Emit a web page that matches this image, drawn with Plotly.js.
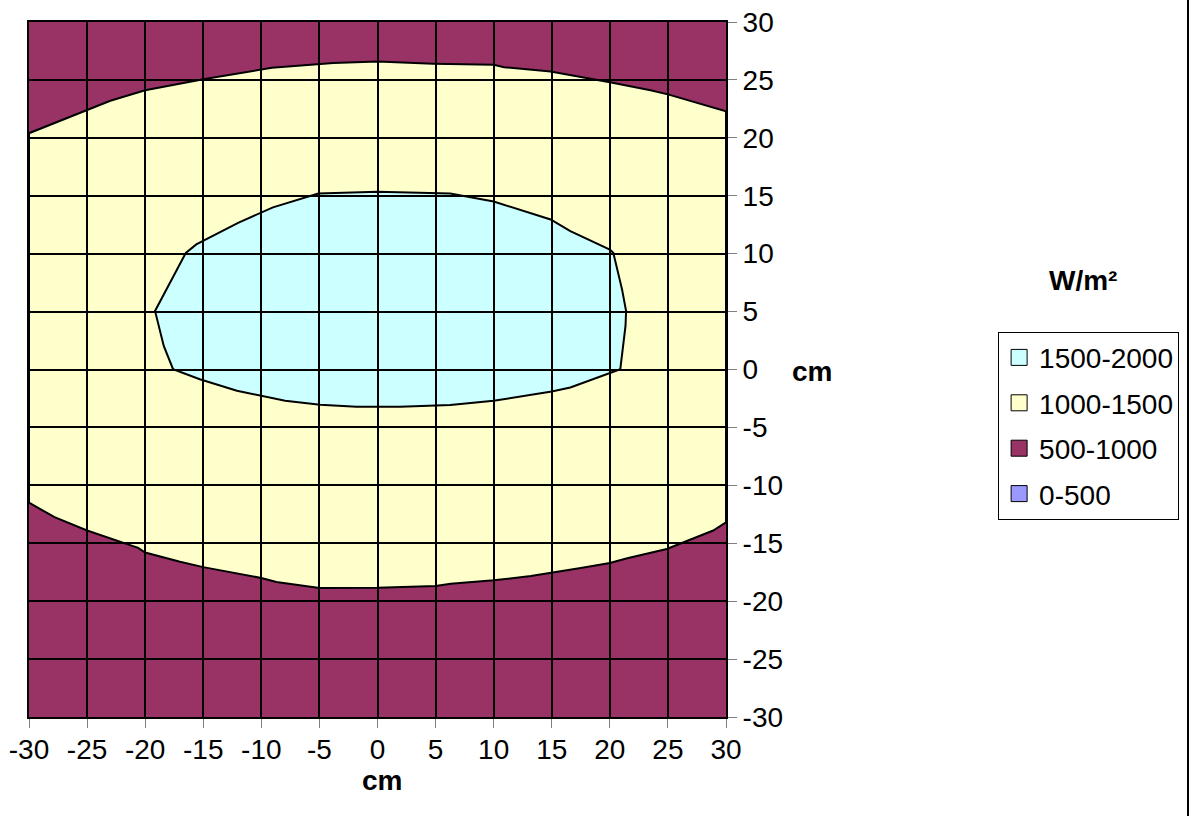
<!DOCTYPE html>
<html>
<head>
<meta charset="utf-8">
<script src="https://cdn.plot.ly/plotly-3.0.1.min.js"></script>
<style>html,body{margin:0;padding:0;background:#fff;}#chart{width:1191px;height:816px;}</style>
</head>
<body>
<div id="chart"></div>
<script>
// Axis extent and tick labels (cm)
const axisRange = [-30, 30];
const xTickVals = [-30, -25, -20, -15, -10, -5, 0, 5, 10, 15, 20, 25, 30];
const xTickLabels = ["-30", "-25", "-20", "-15", "-10", "-5", "0", "5", "10", "15", "20", "25", "30"];
const yTickVals = [-30, -25, -20, -15, -10, -5, 0, 5, 10, 15, 20, 25, 30];
const yTickLabels = ["-30", "-25", "-20", "-15", "-10", "-5", "0", "5", "10", "15", "20", "25", "30"];

// Legend bands (W/m²)
const bandNames = ["1500-2000", "1000-1500", "500-1000", "0-500"];
const bandColors = ["#CCFFFF", "#FFFFCC", "#993366", "#9999FF"];

// 1000 W/m² contour, upper branch (x, y in cm)
const upperX = [-30, -27.7, -25, -23.0, -20, -15, -9.1, -5, -3.8, 0, 4.8, 10, 10.9, 14.9, 20, 23.5, 25, 30];
const upperY = [20.4, 21.3, 22.4, 23.2, 24.1, 25.05, 26.05, 26.4, 26.45, 26.58, 26.4, 26.3, 26.1, 25.72, 24.8, 24.1, 23.75, 22.3];

// 1000 W/m² contour, lower branch
const lowerX = [-30, -27.8, -25, -24.2, -20.6, -20, -17, -15, -10, -8.7, -7.5, -5, 0, 5, 6.3, 10, 13.2, 15, 17.5, 20, 21.5, 24.9, 26.6, 28.9, 30];
const lowerY = [-11.5, -12.75, -13.9, -14.2, -15.4, -15.8, -16.6, -17.06, -18.0, -18.35, -18.5, -18.86, -18.84, -18.7, -18.5, -18.2, -17.83, -17.55, -17.14, -16.7, -16.3, -15.5, -14.85, -13.9, -13.2];

// 1500 W/m² contour (closed loop)
const coreX = [0, -5.1, -9.0, -12.0, -15.6, -16.5, -19.15, -18.4, -17.6, -15.3, -12.1, -7.95, -4.94, -1.8, 1.95, 6.26, 10.0, 15.0, 16.6, 20.0, 20.9, 21.35, 21.4, 21.05, 20.3, 20.0, 16.6, 14.9, 10.0, 6.26, 1.95, 0];
const coreY = [15.35, 15.2, 14.0, 12.66, 10.8, 10.07, 5.05, 2.03, 0.03, -0.84, -1.84, -2.7, -3.05, -3.22, -3.22, -3.07, -2.7, -1.9, -1.55, -0.26, 0.03, 3.76, 5.05, 6.92, 10.07, 10.36, 11.94, 12.95, 14.5, 15.19, 15.3, 15.35];

const FONT = "Arial, 'Liberation Sans', sans-serif";

// Build traces
const bgTrace = {
  x: [axisRange[0], axisRange[1], axisRange[1], axisRange[0], axisRange[0]],
  y: [axisRange[0], axisRange[0], axisRange[1], axisRange[1], axisRange[0]],
  mode: "lines", fill: "toself", fillcolor: bandColors[2],
  line: {width: 0, color: bandColors[2]},
  showlegend: false, hoverinfo: "skip", xaxis: "x", yaxis: "y"
};
const midX = upperX.concat(lowerX.slice().reverse());
const midY = upperY.concat(lowerY.slice().reverse());
midX.push(upperX[0]); midY.push(upperY[0]);
const midTrace = {
  x: midX, y: midY, mode: "lines", fill: "toself", fillcolor: bandColors[1],
  line: {width: 2, color: "#000000"},
  showlegend: false, hoverinfo: "skip", xaxis: "x", yaxis: "y"
};
const coreTrace = {
  x: coreX, y: coreY, mode: "lines", fill: "toself", fillcolor: bandColors[0],
  line: {width: 2, color: "#000000"},
  showlegend: false, hoverinfo: "skip", xaxis: "x", yaxis: "y"
};

const legendTraces = bandNames.map((name, i) => ({
  x: [null], y: [null], type: "scatter", mode: "markers", name: name,
  legendgroup: "g" + i,
  marker: {symbol: "square", size: 16, color: bandColors[i], line: {color: "#000000", width: 1}},
  xaxis: "x2", yaxis: "y2", hoverinfo: "skip"
}));

const data = [bgTrace, midTrace, coreTrace].concat(legendTraces);

const W = 1191, H = 816;
const plotL = 29, plotR = 725.7, plotT = 22, plotB = 717;
const pw = plotR - plotL, ph = plotB - plotT;
const px = v => (v - plotL) / pw;
const py = v => (plotB - v) / ph;

const layout = {
  width: W, height: H,
  margin: {l: plotL, r: W - plotR, t: plotT, b: H - plotB, pad: 0},
  paper_bgcolor: "#FFFFFF",
  plot_bgcolor: "rgba(0,0,0,0)",
  font: {family: FONT, size: 28, color: "#000000"},
  showlegend: true,
  xaxis: {range: axisRange, visible: false, fixedrange: true, anchor: "y"},
  yaxis: {range: axisRange, visible: false, fixedrange: true, anchor: "x"},
  xaxis2: {
    range: axisRange, anchor: "y2", fixedrange: true,
    tickmode: "array", tickvals: xTickVals, ticktext: xTickLabels,
    showgrid: true, gridcolor: "#000000", gridwidth: 2, zeroline: false,
    showline: true, linecolor: "#000000", linewidth: 2, mirror: true,
    ticks: "outside", ticklen: 9, tickwidth: 1, tickcolor: "#808080",
    ticklabelstandoff: -3,
    tickfont: {family: FONT, size: 28, color: "#000000"}
  },
  yaxis2: {
    range: axisRange, anchor: "x2", side: "right", fixedrange: true,
    tickmode: "array", tickvals: yTickVals, ticktext: yTickLabels,
    showgrid: true, gridcolor: "#000000", gridwidth: 2, zeroline: false,
    showline: true, linecolor: "#000000", linewidth: 2, mirror: true,
    ticks: "outside", ticklen: 9, tickwidth: 1, tickcolor: "#808080",
    tickfont: {family: FONT, size: 28, color: "#000000"}
  },
  legend: {
    x: px(997.7), y: py(331.7), xanchor: "left", yanchor: "top",
    bordercolor: "#000000", borderwidth: 1, bgcolor: "#FFFFFF",
    font: {family: FONT, size: 28, color: "#000000"},
    traceorder: "grouped", tracegroupgap: 6
  },
  annotations: [
    {text: "<b>cm</b>", xref: "paper", yref: "paper", x: px(382), y: py(780),
     xanchor: "center", yanchor: "middle", showarrow: false,
     font: {family: FONT, size: 28, color: "#000000"}},
    {text: "<b>cm</b>", xref: "paper", yref: "paper", x: px(812), y: py(371),
     xanchor: "center", yanchor: "middle", showarrow: false,
     font: {family: FONT, size: 28, color: "#000000"}},
    {text: "<b>W/m²</b>", xref: "paper", yref: "paper", x: px(1083), y: py(280),
     xanchor: "center", yanchor: "middle", showarrow: false,
     font: {family: FONT, size: 28, color: "#000000"}}
  ],
  shapes: [
    {type: "line", xref: "paper", yref: "paper", x0: px(1187.5), x1: px(1187.5), y0: py(H), y1: py(0),
     line: {color: "#000000", width: 2}}
  ]
};

Plotly.newPlot("chart", data, layout, {displayModeBar: false, staticPlot: true});
</script>
</body>
</html>
